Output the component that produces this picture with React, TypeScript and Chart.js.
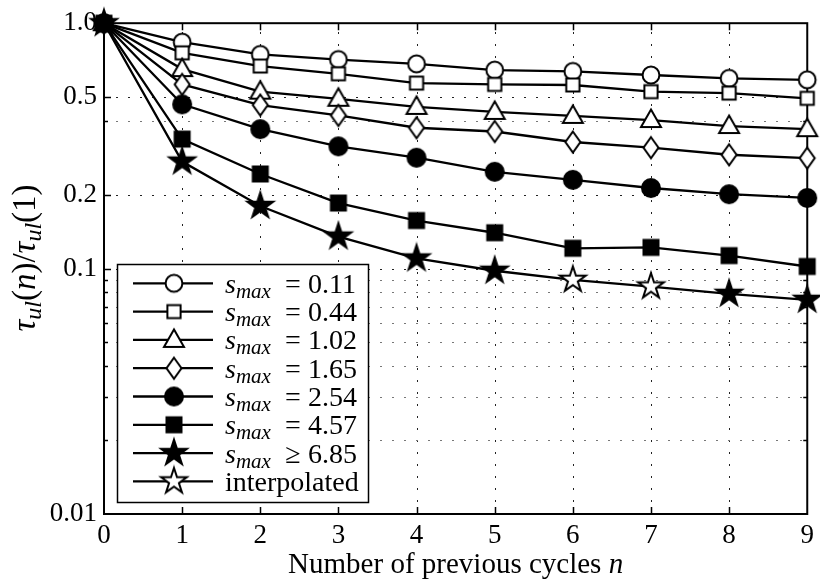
import React, { useEffect, useRef } from 'react';
import { Chart, registerables } from 'chart.js';

Chart.register(...registerables);

// Number of previous cycles (x) and normalised shear stress ratio per s_max level
const cycles = [0, 1, 2, 3, 4, 5, 6, 7, 8, 9];
const sMax011 = [1.0, 0.837, 0.746, 0.711, 0.683, 0.644, 0.636, 0.615, 0.596, 0.588];
const sMax044 = [1.0, 0.757, 0.669, 0.622, 0.57, 0.563, 0.56, 0.526, 0.519, 0.494];
const sMax102 = [1.0, 0.65, 0.526, 0.492, 0.456, 0.435, 0.419, 0.403, 0.381, 0.37];
const sMax165 = [1.0, 0.563, 0.464, 0.421, 0.375, 0.362, 0.328, 0.311, 0.291, 0.282];
const sMax254 = [1.0, 0.467, 0.37, 0.315, 0.283, 0.248, 0.23, 0.213, 0.201, 0.194];
const sMax457 = [1.0, 0.337, 0.243, 0.185, 0.157, 0.14, 0.121, 0.122, 0.113, 0.102];
const sMax685 = [1.0, 0.273, 0.18, 0.135, 0.11, 0.098, 0.09, 0.0845, 0.0789, 0.0746];
// cycles of the s_max >= 6.85 curve whose values were interpolated
const interpolatedCycles = [6, 7];

const seriesRelations = ['=', '=', '=', '=', '=', '=', '\u2265'];
const seriesLevels = ['0.11', '0.44', '1.02', '1.65', '2.54', '4.57', '6.85'];
const interpolatedLabel = 'interpolated';

const xTicks = [0, 1, 2, 3, 4, 5, 6, 7, 8, 9];
const yTicks = [0.01, 0.1, 0.2, 0.5, 1];
const yTickLabels = ['0.01', '0.1', '0.2', '0.5', '1.0'];
const yMinorGrid = [0.4, 0.09, 0.08, 0.07, 0.06, 0.05, 0.04, 0.03, 0.02];
const yMajorGrid = [0.5, 0.2, 0.1];

const SERIF = "'Liberation Serif', 'Times New Roman', serif";

type MarkerKind = 'circle' | 'square' | 'triangle' | 'diamond' | 'star';

function makeMarker(kind: MarkerKind, filled: boolean): HTMLCanvasElement {
  const size = 34;
  const c = document.createElement('canvas');
  c.width = size;
  c.height = size;
  const g = c.getContext('2d') as CanvasRenderingContext2D;
  g.translate(size / 2, size / 2);
  g.lineWidth = 2;
  g.strokeStyle = '#000';
  g.fillStyle = filled ? '#000' : '#fff';
  g.lineJoin = 'miter';
  g.beginPath();
  if (kind === 'circle') {
    g.arc(0, 0, filled ? 9 : 8.4, 0, Math.PI * 2);
  } else if (kind === 'square') {
    const h = filled ? 7.5 : 6.6;
    g.rect(-h, -h, 2 * h, 2 * h);
  } else if (kind === 'triangle') {
    g.moveTo(0, -10.5);
    g.lineTo(10, 7);
    g.lineTo(-10, 7);
    g.closePath();
  } else if (kind === 'diamond') {
    g.moveTo(0, -10.5);
    g.lineTo(7.5, 0);
    g.lineTo(0, 10.5);
    g.lineTo(-7.5, 0);
    g.closePath();
  } else {
    const R = 13.5;
    const r = R * 0.382;
    for (let i = 0; i < 10; i++) {
      const a = -Math.PI / 2 + (i * Math.PI) / 5;
      const rr = i % 2 === 0 ? R : r;
      const x = Math.cos(a) * rr;
      const y = Math.sin(a) * rr;
      if (i === 0) g.moveTo(x, y);
      else g.lineTo(x, y);
    }
    g.closePath();
  }
  g.fill();
  g.stroke();
  return c;
}

type Seg = { t: string; italic?: boolean; size: number; dy?: number };

function drawSegments(ctx: CanvasRenderingContext2D, segs: Seg[], x: number, y: number) {
  let cx = x;
  for (const s of segs) {
    ctx.font = `${s.italic ? 'italic ' : ''}${s.size}px ${SERIF}`;
    ctx.fillText(s.t, cx, y + (s.dy || 0));
    cx += ctx.measureText(s.t).width;
  }
  return cx;
}

function segWidth(ctx: CanvasRenderingContext2D, segs: Seg[]) {
  let w = 0;
  for (const s of segs) {
    ctx.font = `${s.italic ? 'italic ' : ''}${s.size}px ${SERIF}`;
    w += ctx.measureText(s.t).width;
  }
  return w;
}

export default function App() {
  const canvasRef = useRef<HTMLCanvasElement | null>(null);

  useEffect(() => {
    const canvas = canvasRef.current;
    if (!canvas) return;

    const legendMarkers = [
      makeMarker('circle', false),
      makeMarker('square', false),
      makeMarker('triangle', false),
      makeMarker('diamond', false),
      makeMarker('circle', true),
      makeMarker('square', true),
      makeMarker('star', true),
      makeMarker('star', false),
    ];
    const filledStar = legendMarkers[6];
    const openStar = legendMarkers[7];

    const seriesValues = [sMax011, sMax044, sMax102, sMax165, sMax254, sMax457, sMax685];

    const datasets = seriesValues.map((vals, i) => ({
      label: `s_max ${seriesRelations[i]} ${seriesLevels[i]}`,
      data: vals.map((v, k) => ({ x: cycles[k], y: v })),
      borderColor: '#000',
      backgroundColor: '#000',
      borderWidth: 2.3,
      pointRadius: 9,
      pointStyle:
        i === 6
          ? (c: any) => (interpolatedCycles.includes(cycles[c.dataIndex]) ? openStar : filledStar)
          : legendMarkers[i],
      clip: false as any,
      order: 6 - i,
    }));

    const frame = {
      id: 'frame',
      beforeDatasetsDraw(chart: any) {
        const ctx: CanvasRenderingContext2D = chart.ctx;
        const { left, right, top, bottom } = chart.chartArea;
        const xs = chart.scales.x;
        const ys = chart.scales.y;
        ctx.save();
        ctx.lineWidth = 1;
        // dotted grid
        ctx.setLineDash([2, 10]);
        ctx.strokeStyle = '#222';
        for (const v of xTicks.slice(1, -1)) {
          const px = Math.round(xs.getPixelForValue(v)) + 0.5;
          ctx.beginPath();
          ctx.moveTo(px, bottom);
          ctx.lineTo(px, top);
          ctx.stroke();
        }
        for (const v of yMajorGrid) {
          const py = Math.round(ys.getPixelForValue(v)) + 0.5;
          ctx.beginPath();
          ctx.moveTo(left, py);
          ctx.lineTo(right, py);
          ctx.stroke();
        }
        ctx.strokeStyle = '#777';
        for (const v of yMinorGrid) {
          const py = Math.round(ys.getPixelForValue(v)) + 0.5;
          ctx.beginPath();
          ctx.moveTo(left, py);
          ctx.lineTo(right, py);
          ctx.stroke();
        }
        ctx.setLineDash([]);
        // inward tick marks
        ctx.strokeStyle = '#000';
        ctx.lineWidth = 1.5;
        for (const v of xTicks.slice(1, -1)) {
          const px = Math.round(xs.getPixelForValue(v)) + 0.5;
          ctx.beginPath();
          ctx.moveTo(px, bottom);
          ctx.lineTo(px, bottom - 7);
          ctx.moveTo(px, top);
          ctx.lineTo(px, top + 7);
          ctx.stroke();
        }
        const yAll = [...yMajorGrid.map((v) => [v, 7]), ...yMinorGrid.map((v) => [v, 4])];
        for (const [v, len] of yAll) {
          const py = Math.round(ys.getPixelForValue(v)) + 0.5;
          ctx.beginPath();
          ctx.moveTo(left, py);
          ctx.lineTo(left + len, py);
          ctx.moveTo(right, py);
          ctx.lineTo(right - len, py);
          ctx.stroke();
        }
        // axes box
        ctx.lineWidth = 2;
        ctx.strokeRect(left, top, right - left, bottom - top);
        ctx.restore();
      },
      afterDraw(chart: any) {
        const ctx: CanvasRenderingContext2D = chart.ctx;
        const { left, right } = chart.chartArea;
        ctx.save();
        ctx.fillStyle = '#000';
        ctx.textBaseline = 'alphabetic';

        // x axis title
        const xTitle: Seg[] = [
          { t: 'Number of previous cycles ', size: 29 },
          { t: 'n', italic: true, size: 29 },
        ];
        const xw = segWidth(ctx, xTitle);
        drawSegments(ctx, xTitle, (left + right) / 2 - xw / 2, 573);

        // y axis title
        const yTitle: Seg[] = [
          { t: '\u03c4', italic: true, size: 33 },
          { t: 'ul', italic: true, size: 24, dy: 6 },
          { t: '(', size: 33 },
          { t: 'n', italic: true, size: 33 },
          { t: ')/', size: 33 },
          { t: '\u03c4', italic: true, size: 33 },
          { t: 'ul', italic: true, size: 24, dy: 6 },
          { t: '(1)', size: 33 },
        ];
        ctx.save();
        ctx.translate(35, 258);
        ctx.rotate(-Math.PI / 2);
        const yw = segWidth(ctx, yTitle);
        drawSegments(ctx, yTitle, -yw / 2, 0);
        ctx.restore();

        // legend
        const bx = 117;
        const by = 264;
        const bw = 251;
        const bh = 238;
        ctx.fillStyle = '#fff';
        ctx.fillRect(bx, by, bw, bh);
        ctx.strokeStyle = '#000';
        ctx.lineWidth = 1.5;
        ctx.strokeRect(bx + 0.5, by + 0.5, bw, bh);
        ctx.fillStyle = '#000';
        for (let i = 0; i < 8; i++) {
          const cy = 283.3 + i * 28.3;
          ctx.lineWidth = 2.3;
          ctx.beginPath();
          ctx.moveTo(133, cy);
          ctx.lineTo(213, cy);
          ctx.stroke();
          const m = legendMarkers[i];
          ctx.drawImage(m, 174 - m.width / 2, cy - m.height / 2);
          const base = cy + 9.5;
          if (i < 7) {
            drawSegments(
              ctx,
              [
                { t: 's', italic: true, size: 28 },
                { t: 'max', italic: true, size: 21, dy: 5 },
              ],
              225,
              base
            );
            ctx.font = `28px ${SERIF}`;
            ctx.textAlign = 'center';
            ctx.fillText(seriesRelations[i], 293, base);
            ctx.textAlign = 'left';
            ctx.fillText(seriesLevels[i], 308, base);
          } else {
            ctx.font = `28px ${SERIF}`;
            ctx.fillText(interpolatedLabel, 225, base);
          }
        }
        ctx.restore();
      },
    };

    const chart = new Chart(canvas, {
      type: 'line',
      data: { datasets: datasets as any },
      options: {
        responsive: false,
        animation: false,
        layout: { padding: { left: 0, right: 11, top: 22, bottom: 0 } },
        plugins: { legend: { display: false }, tooltip: { enabled: false } },
        scales: {
          x: {
            type: 'linear',
            min: 0,
            max: 9,
            afterBuildTicks: (s: any) => {
              s.ticks = xTicks.map((v) => ({ value: v }));
            },
            afterFit: (s: any) => {
              s.height = 74;
            },
            ticks: {
              color: '#000',
              padding: 6,
              font: { family: SERIF, size: 27 },
              maxRotation: 0,
              autoSkip: false,
            },
            grid: { display: false, drawTicks: false },
            border: { display: false },
          },
          y: {
            type: 'logarithmic',
            min: 0.01,
            max: 1,
            afterBuildTicks: (s: any) => {
              s.ticks = yTicks.map((v) => ({ value: v }));
            },
            afterFit: (s: any) => {
              s.width = 104;
            },
            ticks: {
              color: '#000',
              padding: 7,
              font: { family: SERIF, size: 27 },
              autoSkip: false,
              callback: (v: any) => {
                const k = yTicks.indexOf(Number(v));
                return k >= 0 ? yTickLabels[k] : '';
              },
            },
            grid: { display: false, drawTicks: false },
            border: { display: false },
          },
        },
      },
      plugins: [frame],
    });

    return () => chart.destroy();
  }, []);

  return (
    <div style={{ position: 'absolute', left: 0, top: 0, width: 820, height: 588, background: '#fff' }}>
      <canvas ref={canvasRef} width={820} height={588} style={{ display: 'block' }} />
    </div>
  );
}
